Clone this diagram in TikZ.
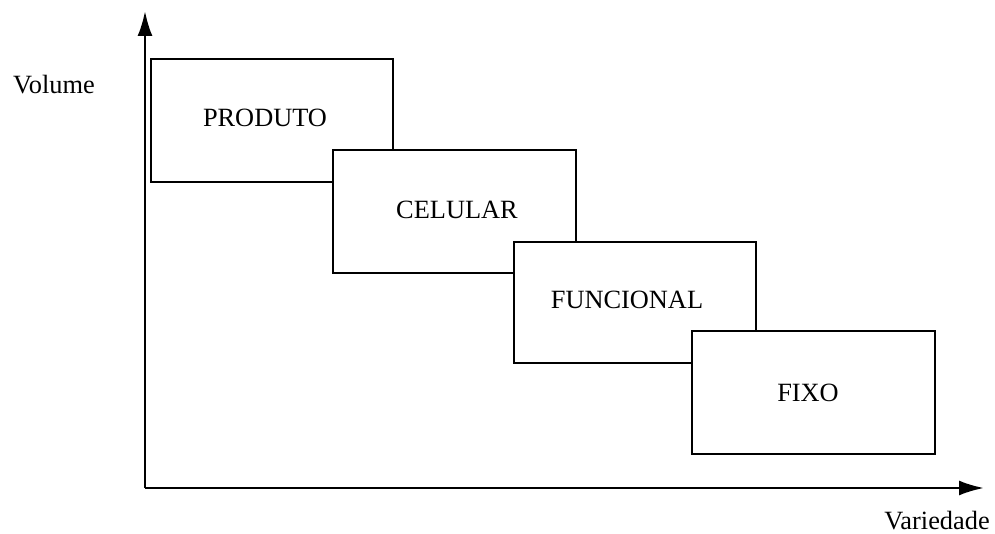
\documentclass[tikz,border=0pt]{standalone}
\usepackage{fontspec}
\setmainfont{Liberation Serif}
\usetikzlibrary{arrows.meta}
\tikzstyle{caixa}=[draw,fill=white,line width=1.4pt,rectangle,inner sep=0]
\tikzstyle{rot}=[font=\fontsize{15}{18}\selectfont,inner sep=0]
\tikzstyle{eixo}=[line width=1.4pt,-{Latex[length=0.5cm,width=0.3cm]}]

\begin{document}
\begin{tikzpicture}[x=0.02cm,y=-0.02cm]
	\useasboundingbox (0,0) rectangle (995,534);

	\coordinate (o) at (145,488);
	\coordinate (vt) at (145,11);
	\coordinate (hz) at (984,488);

	\draw[caixa] (151,59) rectangle (393,182);
	\draw[caixa] (333,150) rectangle (576,273);
	\draw[caixa] (514,242) rectangle (756,363);
	\draw[caixa] (692,331) rectangle (935,454);

	\node[rot] (produto) at (265,118) {PRODUTO};
	\node[rot] (celular) at (457,210) {CELULAR};
	\node[rot] (funcional) at (627,300) {FUNCIONAL};
	\node[rot] (fixo) at (808,393) {FIXO};

	\node[rot] (volume) at (54,85) {Volume};
	\node[rot] (variedade) at (937,521) {Variedade};

	\draw[eixo] (o) -- (vt);
	\draw[eixo] (o) -- (hz);

\end{tikzpicture}
\end{document}
